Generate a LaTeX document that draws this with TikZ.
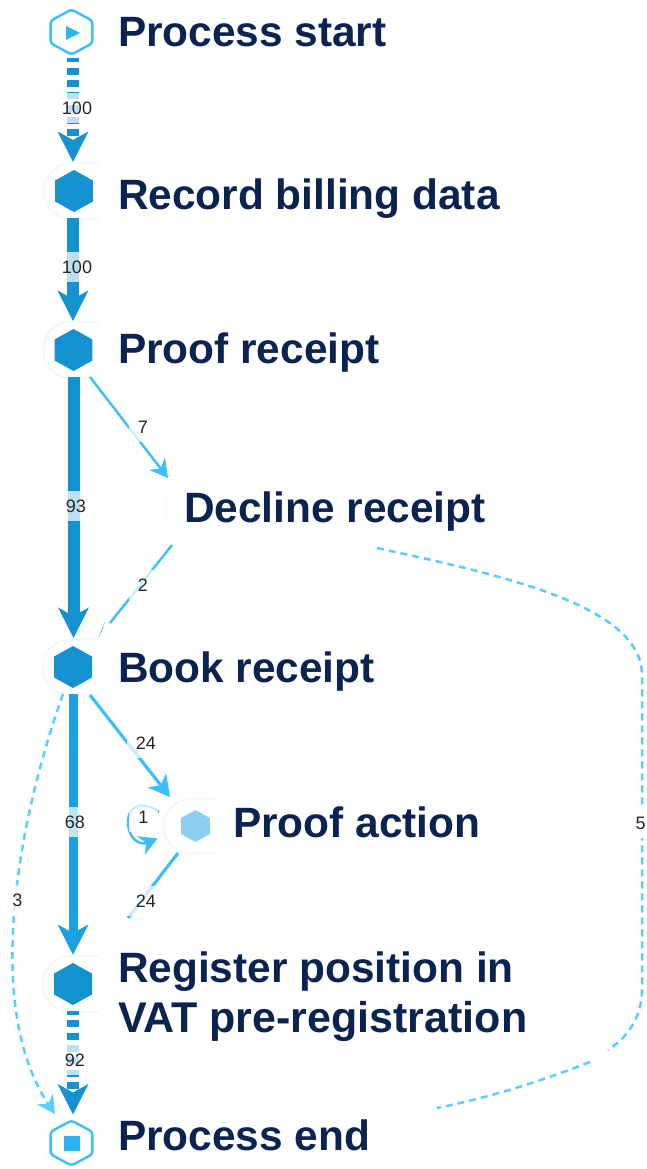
\documentclass[tikz,border=0pt]{standalone}
\usepackage{fontspec}
\setmainfont{Liberation Sans}
\usetikzlibrary{arrows.meta,shapes.geometric}
\definecolor{navy}{HTML}{0A2350}
\definecolor{deep}{HTML}{1491CF}
\definecolor{mid}{HTML}{1BA0E2}
\definecolor{sky}{HTML}{3ABEFF}
\definecolor{dashsky}{HTML}{5CCBFF}
\definecolor{halocol}{HTML}{F1F8FE}
\tikzset{
  hexfill/.style={regular polygon,regular polygon sides=6,shape border rotate=30,draw=none,fill=#1,inner sep=0pt,outer sep=0pt,xscale=1.04},
  hexfill/.default=deep,
  hexring/.style={regular polygon,regular polygon sides=6,shape border rotate=30,draw=sky,line width=2.4pt,fill=white,inner sep=0pt,outer sep=0pt,minimum size=45pt,xscale=1.07,rounded corners=3pt},
  title/.style={font=\fontsize{42.4}{50}\selectfont\bfseries,text=navy,inner sep=0pt,outer sep=0pt},
  num/.style={font=\fontsize{18}{20}\selectfont,text=black!85,fill=white,fill opacity=.72,text opacity=1,inner xsep=9pt,inner ysep=0pt,minimum height=30pt},
  halo/.style={draw=halocol,line width=2pt,rounded corners=27pt},
  big/.style={-{Stealth[length=30pt,width=30pt,inset=8pt]},line width=#1},
  thin/.style={draw=sky,-{Stealth[length=18pt,width=20pt,inset=6pt]},line width=2.4pt},
  mediumedge/.style={draw=sky,-{Stealth[length=21pt,width=23pt,inset=6pt]},line width=3.2pt},
  dashes/.style={dash pattern=on 7pt off 5.3pt,dash phase=3pt},
  lightdash/.style={draw=dashsky,line width=2.5pt,dash pattern=on 7pt off 5pt},
}
\begin{document}
\begin{tikzpicture}[x=1pt,y=-1pt]
\useasboundingbox (0,0) rectangle (646,1169);
\clip (0,0) rectangle (646,1169);
\fill[white] (0,0) rectangle (646,1169);
% nodes
\node[hexring] (start) at (71.5,32) {};
\node[hexfill,minimum size=42pt] (record) at (74,191) {};
\node[hexfill,minimum size=42pt] (proof) at (73.5,350) {};
\coordinate (decline) at (200,510);
\node[hexfill,minimum size=42pt] (book) at (73,667) {};
\node[hexfill=mid!50!white,minimum size=32pt] (action) at (195.5,826) {};
\node[hexfill,minimum size=42pt] (register) at (73,984) {};
\node[hexring] (finish) at (71.5,1143) {};
% inner glyphs
\fill[color=sky!60!mid] ([shift={(-5.5,-6)}]start.center) -- ([shift={(8.5,1)}]start.center) -- ([shift={(-5.5,8)}]start.center) -- cycle;
\fill[color=sky!60!mid] ([shift={(-8,-7)}]finish.center) rectangle ([shift={(8,8)}]finish.center);
% halos
\foreach \n in {record,proof,book,register}
  \draw[halo] ([shift={(25,-28)}]\n.center) -- ([shift={(-30,-28)}]\n.center) -- ([shift={(-30,28)}]\n.center) -- ([shift={(25,28)}]\n.center);
\draw[halo] ([shift={(21,-27)}]action.center) -- ([shift={(-32,-27)}]action.center) -- ([shift={(-32,27)}]action.center) -- ([shift={(21,27)}]action.center);
\draw[draw=halocol!50!white,line width=1.2pt] ([shift={(-34,-15)}]decline) -- ([shift={(-34,15)}]decline);
% thick connectors
\draw[big=12pt,draw=deep,color=deep,dashes,shorten <=4pt,shorten >=8pt] ([xshift=1.5pt]start.south) -- ([xshift=-1pt]record.north);
\draw[big=12pt,draw=deep,color=deep,shorten <=6pt,shorten >=8pt] ([xshift=-1pt]record.south) -- ([xshift=-.5pt]proof.north);
\draw[big=12pt,draw=deep,color=deep,shorten <=6pt,shorten >=8pt] (proof.south) -- ([xshift=.5pt]book.north);
\draw[big=9pt,draw=mid,color=mid,shorten <=6pt,shorten >=8pt] (book.south) -- (register.north);
\draw[big=12pt,draw=deep,color=deep,dashes,shorten <=6pt,shorten >=6pt] (register.south) -- ([xshift=1.5pt]finish.north);
% thin connectors
\draw[thin,color=sky] ([shift={(16.5,27)}]proof.center) -- ([shift={(-32,-32)}]decline);
\draw[draw=sky,line width=2.4pt] ([shift={(-28,35)}]decline) -- ([shift={(37,-44)}]book.center);
\fill[color=sky] ([shift={(32,-45)}]book.center) -- ([shift={(25,-29)}]book.center) -- ([shift={(29,-36)}]book.center) -- cycle;
\draw[mediumedge,color=sky] ([shift={(17,28)}]book.center) -- ([shift={(-25.5,-29)}]action.center);
\draw[draw=sky,line width=3.2pt] ([shift={(-17.5,27)}]action.center) -- ([shift={(55,-66)}]register.center);
\draw[thin,color=sky] ([shift={(-36.5,-14)}]action.center) .. controls ([shift={(-48,-24)}]action.center) and ([shift={(-67.5,-24)}]action.center) .. ([shift={(-67.5,-4)}]action.center) .. controls ([shift={(-67.5,12)}]action.center) and ([shift={(-56,20)}]action.center) .. ([shift={(-38,12.5)}]action.center);
% dashed connectors
\draw[lightdash,-{Stealth[length=18pt,width=19pt,inset=6pt]},color=dashsky] ([shift={(-10,27)}]book.center) .. controls (15,830) and (-15,1010) .. ([shift={(-16.5,-29)}]finish.center);
\draw[lightdash] ([shift={(177,38)}]decline) .. controls ([shift={(300,65)}]decline) and ([shift={(442,95)}]decline) .. ([shift={(442,165)}]decline) -- ([shift={(570.5,-153)}]finish.center) .. controls ([shift={(570.5,-125)}]finish.center) and ([shift={(555,-105)}]finish.center) .. ([shift={(536.5,-93)}]finish.center);
\draw[lightdash] ([shift={(518.5,-81)}]finish.center) .. controls ([shift={(465,-60)}]finish.center) and ([shift={(415,-45)}]finish.center) .. ([shift={(365.5,-35)}]finish.center);
% edge labels
\node[num] (n1) at (77,108) {100};
\node[num] (n2) at (77,267) {100};
\node[num] (n3) at (143,427) {7};
\node[num] (n4) at (76,506) {93};
\node[num] (n5) at (143,585) {2};
\node[num] (n6) at (146,743) {24};
\node[num] (n7) at (143.5,817) {1};
\node[num] (n8) at (75,822) {68};
\node[num] (n9) at (17.5,900) {3};
\node[num] (n10) at (146,901) {24};
\node[num] (n11) at (75,1060) {92};
\node[num,fill opacity=1,inner xsep=3pt] (n12) at (640.5,823) {5};
% titles
\node[title,anchor=base west] (t1) at (118,47) {Process start};
\node[title,anchor=base west] (t2) at (118,209) {Record billing data};
\node[title,anchor=base west] (t3) at (118,363) {Proof receipt};
\node[title,anchor=base west] (t4) at (184,522.5) {Decline receipt};
\node[title,anchor=base west] (t5) at (118,682) {Book receipt};
\node[title,anchor=base west] (t6) at (233,837.5) {Proof action};
\node[title,anchor=west,align=left] (t7) at (118,996.5) {Register position in\\{\fontsize{43}{50}\selectfont VAT pre-registration}};
\node[title,anchor=base west] (t8) at (118,1150) {Process end};
\end{tikzpicture}
\end{document}
